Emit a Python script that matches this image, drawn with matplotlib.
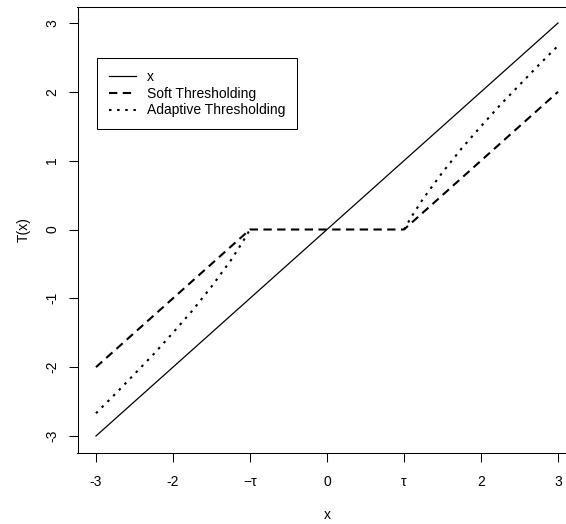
import matplotlib
matplotlib.use('Agg')
import matplotlib.pyplot as plt
import numpy as np

plt.rcParams['font.family'] = ['Liberation Sans', 'DejaVu Sans']

# identity line
x_line = [-3, 3]
y_line = [-3, 3]

# soft thresholding, tau = 1
x_soft = [-3, -1, 1, 3]
y_soft = [-2, 0, 0, 2]

# adaptive thresholding, two branches |x| > tau
x_adapt = [-3, -2.75, -2.5, -2.25, -2, -1.75, -1.5, -1.25, -1.1, -1,
           np.nan,
           1, 1.1, 1.25, 1.5, 1.75, 2, 2.25, 2.5, 2.75, 3]
y_adapt = [-2.67, -2.39, -2.1, -1.81, -1.5, -1.18, -0.83, -0.45, -0.19, 0,
           np.nan,
           0, 0.19, 0.45, 0.83, 1.18, 1.5, 1.81, 2.1, 2.39, 2.67]

xticks = [-3, -2, -1, 0, 1, 2, 3]
xtick_labels = ['-3', '-2', '\u2212\u03c4', '0', '\u03c4', '2', '3']
yticks = [-3, -2, -1, 0, 1, 2, 3]
ytick_labels = ['-3', '-2', '-1', '0', '1', '2', '3']

fig = plt.figure(figsize=(5.66, 5.24), dpi=100)
ax = fig.add_axes([77.5 / 566, 71.5 / 524, 499 / 566, 446 / 524])

ax.plot(x_line, y_line, color='black', lw=0.9, label='x')
ax.plot(x_soft, y_soft, color='black', lw=1.5, dashes=(4, 2.6),
        label='Soft Thresholding')
ax.plot(x_adapt, y_adapt, color='black', lw=1.5, dashes=(1.2, 2.7),
        label='Adaptive Thresholding')

ax.set_xlim(-3.24, 3.24)
ax.set_ylim(-3.24, 3.24)
ax.set_xticks(xticks)
ax.set_xticklabels(xtick_labels)
ax.set_yticks(yticks)
ax.set_yticklabels(ytick_labels, rotation=90, va='center')
ax.tick_params(length=6.5, width=0.75, labelsize=10, colors='black')
ax.tick_params(axis='x', pad=9.5)
ax.tick_params(axis='y', pad=6.5)
for s in ax.spines.values():
    s.set_linewidth(0.75)

ax.text(0.5, -0.14, 'x', transform=ax.transAxes, ha='center', va='center',
        fontsize=10)
ax.text(-0.107, 0.5, 'T(x)', transform=ax.transAxes, ha='center',
        va='center', rotation=90, fontsize=10)

leg = ax.legend(loc='upper left', bbox_to_anchor=(0.039, 0.8845),
                borderaxespad=0, fontsize=10, handlelength=1.95,
                handletextpad=0.8, labelspacing=0.2, borderpad=0.85,
                fancybox=False, framealpha=1, edgecolor='black')
leg.get_frame().set_linewidth(0.75)

fig.savefig('out.png', dpi=100)
